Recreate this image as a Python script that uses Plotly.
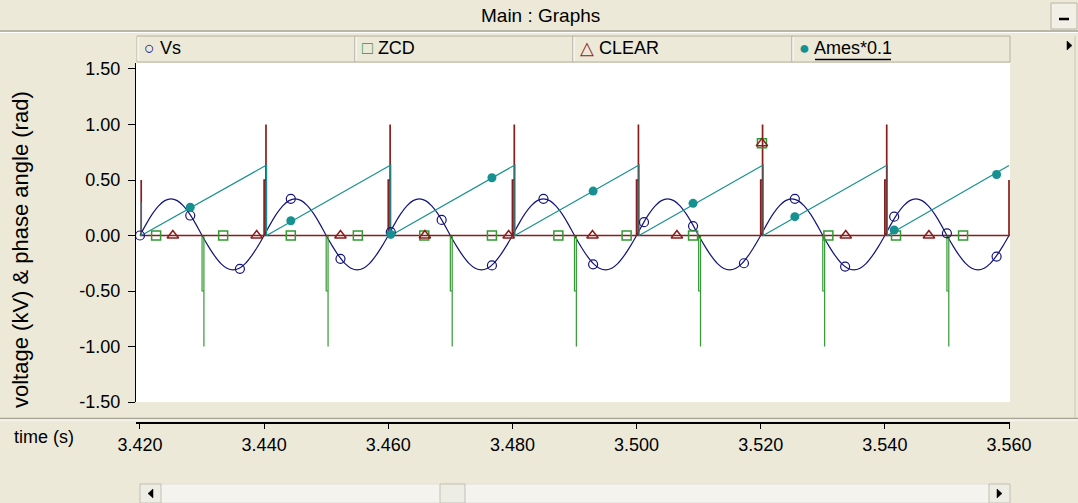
import plotly.graph_objects as go

# ---------------- data ----------------
# Vs (kV), sampled every 1 ms from 3.420 s to 3.560 s
vs_t0 = 3.420
vs_dt = 0.001
vs_values = [
    0.000, 0.102, 0.194, 0.267, 0.314, 0.330, 0.314, 0.267, 0.194, 0.102,
    0.000, -0.096, -0.182, -0.251, -0.295, -0.310, -0.295, -0.251, -0.182, -0.096,
    0.000, 0.102, 0.194, 0.267, 0.314, 0.330, 0.314, 0.267, 0.194, 0.102,
    0.000, -0.096, -0.182, -0.251, -0.295, -0.310, -0.295, -0.251, -0.182, -0.096,
    0.000, 0.102, 0.194, 0.267, 0.314, 0.330, 0.314, 0.267, 0.194, 0.102,
    0.000, -0.096, -0.182, -0.251, -0.295, -0.310, -0.295, -0.251, -0.182, -0.096,
    0.000, 0.102, 0.194, 0.267, 0.314, 0.330, 0.314, 0.267, 0.194, 0.102,
    0.000, -0.096, -0.182, -0.251, -0.295, -0.310, -0.295, -0.251, -0.182, -0.096,
    0.000, 0.102, 0.194, 0.267, 0.314, 0.330, 0.314, 0.267, 0.194, 0.102,
    0.000, -0.096, -0.182, -0.251, -0.295, -0.310, -0.295, -0.251, -0.182, -0.096,
    0.000, 0.102, 0.194, 0.267, 0.314, 0.330, 0.314, 0.267, 0.194, 0.102,
    0.000, -0.096, -0.182, -0.251, -0.295, -0.310, -0.295, -0.251, -0.182, -0.096,
    0.000, 0.102, 0.194, 0.267, 0.314, 0.330, 0.314, 0.267, 0.194, 0.102,
    0.000, -0.096, -0.182, -0.251, -0.295, -0.310, -0.295, -0.251, -0.182, -0.096,
    0.000,
]
vs_time = [round(vs_t0 + i * vs_dt, 4) for i in range(len(vs_values))]

vs_marker_t = [3.4200, 3.4281, 3.4361, 3.4443, 3.4523, 3.4604, 3.4686, 3.4767, 3.4850,
               3.4930, 3.5012, 3.5091, 3.5173, 3.5255, 3.5336, 3.5415, 3.5500, 3.5580]
vs_marker_v = [0.00, 0.18, -0.30, 0.33, -0.21, 0.03, 0.14, -0.27, 0.33,
               -0.26, 0.12, 0.085, -0.25, 0.33, -0.28, 0.17, 0.02, -0.19]

# ZCD: zero-crossing detector pulses
zcd_time = [3.4200,
            3.4300, 3.4300, 3.4303, 3.4303, 3.4303,
            3.4500, 3.4500, 3.4503, 3.4503, 3.4503,
            3.4700, 3.4700, 3.4703, 3.4703, 3.4703,
            3.4900, 3.4900, 3.4903, 3.4903, 3.4903,
            3.5100, 3.5100, 3.5103, 3.5103, 3.5103,
            3.5300, 3.5300, 3.5303, 3.5303, 3.5303,
            3.5500, 3.5500, 3.5503, 3.5503, 3.5503,
            3.5600]
zcd_values = [0.0,
              0.0, -0.5, -0.5, -1.0, 0.0,
              0.0, -0.5, -0.5, -1.0, 0.0,
              0.0, -0.5, -0.5, -1.0, 0.0,
              0.0, -0.5, -0.5, -1.0, 0.0,
              0.0, -0.5, -0.5, -1.0, 0.0,
              0.0, -0.5, -0.5, -1.0, 0.0,
              0.0, -0.5, -0.5, -1.0, 0.0,
              0.0]
zcd_marker_t = [3.4226, 3.4334, 3.4443, 3.4551, 3.4658, 3.4767, 3.4874, 3.4984,
                3.5091, 3.5202, 3.5309, 3.5418, 3.5526]
zcd_marker_v = [0.0, 0.0, 0.0, 0.0, 0.0, 0.0, 0.0, 0.0, 0.0, 0.83, 0.0, 0.0, 0.0]

# CLEAR: reset pulses
clear_time = [3.4202, 3.4202,
              3.4400, 3.4400, 3.4403, 3.4403, 3.4403,
              3.4600, 3.4600, 3.4603, 3.4603, 3.4603,
              3.4800, 3.4800, 3.4803, 3.4803, 3.4803,
              3.5000, 3.5000, 3.5003, 3.5003, 3.5003,
              3.5200, 3.5200, 3.5203, 3.5203, 3.5203,
              3.5400, 3.5400, 3.5403, 3.5403, 3.5403,
              3.5600, 3.5600]
clear_values = [0.5, 0.0,
                0.0, 0.5, 0.5, 1.0, 0.0,
                0.0, 0.5, 0.5, 1.0, 0.0,
                0.0, 0.5, 0.5, 1.0, 0.0,
                0.0, 0.5, 0.5, 1.0, 0.0,
                0.0, 0.5, 0.5, 1.0, 0.0,
                0.0, 0.5, 0.5, 1.0, 0.0,
                0.0, 0.5]
clear_marker_t = [3.4253, 3.4388, 3.4523, 3.4659, 3.4794, 3.4929, 3.5065, 3.5202,
                  3.5337, 3.5471]
clear_marker_v = [0.0, 0.0, 0.0, 0.0, 0.0, 0.0, 0.0, 0.83, 0.0, 0.0]

# Ames*0.1: phase angle sawtooth
ames_time = [3.4202, 3.4202,
             3.4404, 3.4404,
             3.4604, 3.4604,
             3.4804, 3.4804,
             3.5004, 3.5004,
             3.5204, 3.5204,
             3.5404, 3.5404,
             3.5600]
ames_values = [0.30, 0.0,
               0.635, 0.0,
               0.635, 0.0,
               0.635, 0.0,
               0.635, 0.0,
               0.635, 0.0,
               0.635, 0.0,
               0.630]
ames_marker_t = [3.4281, 3.4443, 3.4604, 3.4767, 3.4930, 3.5091, 3.5255, 3.5415, 3.5580]
ames_marker_v = [0.254, 0.133, 0.01, 0.52, 0.40, 0.29, 0.17, 0.05, 0.55]

x_ticks = [3.42, 3.44, 3.46, 3.48, 3.50, 3.52, 3.54, 3.56]
x_tick_labels = ["3.420", "3.440", "3.460", "3.480", "3.500", "3.520", "3.540", "3.560"]
y_ticks = [-1.5, -1.0, -0.5, 0.0, 0.5, 1.0, 1.5]
y_tick_labels = ["-1.50", "-1.00", "-0.50", "0.00", "0.50", "1.00", "1.50"]

series_names = ["Vs", "ZCD", "CLEAR", "Ames*0.1"]
series_colors = ["#14147a", "#339933", "#8b1c1c", "#169090"]
legend_symbols = ["○", "□", "△", "●"]

# ---------------- layout geometry ----------------
W, H = 1078, 503
ML, MR, MT, MB = 136, 68, 63, 80
PW = W - ML - MR
PH = H - MT - MB
PLOT_BOTTOM_PX = 402


def px(x):
    return (x - ML) / PW


def py(y):
    return (H - MB - y) / PH


BG = "#ECE9D8"
FONT = "Liberation Sans, Arial, sans-serif"
FS = 18

fig = go.Figure()

# lines
fig.add_trace(go.Scatter(x=vs_time, y=vs_values, mode="lines", line=dict(color=series_colors[0], width=1.2, shape="spline"),
                         showlegend=False, hoverinfo="skip"))
fig.add_trace(go.Scatter(x=zcd_time, y=zcd_values, mode="lines", line=dict(color=series_colors[1], width=1.2),
                         showlegend=False, hoverinfo="skip"))
fig.add_trace(go.Scatter(x=clear_time, y=clear_values, mode="lines", line=dict(color=series_colors[2], width=1.7),
                         showlegend=False, hoverinfo="skip"))
fig.add_trace(go.Scatter(x=ames_time, y=ames_values, mode="lines", line=dict(color=series_colors[3], width=1.2),
                         showlegend=False, hoverinfo="skip"))

# markers
fig.add_trace(go.Scatter(x=vs_marker_t, y=vs_marker_v, mode="markers", showlegend=False,
                         marker=dict(symbol="circle-open", size=9, color=series_colors[0], line=dict(width=1.2))))
fig.add_trace(go.Scatter(x=zcd_marker_t, y=zcd_marker_v, mode="markers", showlegend=False,
                         marker=dict(symbol="square-open", size=9, color=series_colors[1], line=dict(width=1.5))))
fig.add_trace(go.Scatter(x=clear_marker_t, y=clear_marker_v, mode="markers", showlegend=False,
                         marker=dict(symbol="triangle-up-open", size=10, color=series_colors[2], line=dict(width=1.5))))
fig.add_trace(go.Scatter(x=ames_marker_t, y=ames_marker_v, mode="markers", showlegend=False,
                         marker=dict(symbol="circle", size=9, color=series_colors[3])))

shapes = []
annotations = []

# title bar
annotations.append(dict(text="Main : Graphs", x=px(540), y=py(15), xref="paper", yref="paper",
                        showarrow=False, font=dict(size=19, color="black", family=FONT), xanchor="center", yanchor="middle"))
shapes.append(dict(type="line", xref="paper", yref="paper", x0=px(0), x1=px(W), y0=py(31), y1=py(31),
                   line=dict(color="#A7A596", width=1.5)))
shapes.append(dict(type="line", xref="paper", yref="paper", x0=px(0), x1=px(W), y0=py(32.5), y1=py(32.5),
                   line=dict(color="#FFFFFF", width=1)))
# minimize button
shapes.append(dict(type="rect", xref="paper", yref="paper", x0=px(1051), x1=px(1077), y0=py(3), y1=py(29),
                   line=dict(color="#B8B5A6", width=1), fillcolor="#F1EFE6"))
shapes.append(dict(type="line", xref="paper", yref="paper", x0=px(1059), x1=px(1069), y0=py(19), y1=py(19),
                   line=dict(color="black", width=2.5)))
shapes.append(dict(type="path", xref="paper", yref="paper",
                   path=f"M {px(1067)} {py(41)} L {px(1072)} {py(45.5)} L {px(1067)} {py(50)} Z",
                   fillcolor="black", line=dict(color="black", width=0.5)))

# legend bar
cells = [137, 355, 573, 792, 1010]
for i in range(4):
    shapes.append(dict(type="rect", xref="paper", yref="paper", x0=px(cells[i]), x1=px(cells[i + 1]),
                       y0=py(62), y1=py(36), line=dict(color="#B5B2A2", width=1), fillcolor=BG, layer="below"))
    shapes.append(dict(type="line", xref="paper", yref="paper", x0=px(cells[i] + 1), x1=px(cells[i] + 1),
                       y0=py(61), y1=py(37), line=dict(color="#FFFFFF", width=1)))
    sym = legend_symbols[i]
    label = series_names[i]
    annotations.append(dict(text=f'<span style="color:{series_colors[i]}">{sym}</span> {label}',
                            x=px(cells[i] + 5), y=py(48), xref="paper", yref="paper", showarrow=False,
                            xanchor="left", yanchor="middle", font=dict(size=FS, color="black", family=FONT)))
# underline for the selected channel
shapes.append(dict(type="line", xref="paper", yref="paper", x0=px(815), x1=px(891), y0=py(59.5), y1=py(59.5),
                   line=dict(color="black", width=1.5)))
# right separator column
shapes.append(dict(type="line", xref="paper", yref="paper", x0=px(1075), x1=px(1075), y0=py(36), y1=py(418),
                   line=dict(color="#C9C6B6", width=1)))

# bottom separator
shapes.append(dict(type="line", xref="paper", yref="paper", x0=px(0), x1=px(W), y0=py(418.5), y1=py(418.5),
                   line=dict(color="#A7A596", width=1.5)))
shapes.append(dict(type="line", xref="paper", yref="paper", x0=px(0), x1=px(W), y0=py(420), y1=py(420),
                   line=dict(color="#FFFFFF", width=1)))

# scrollbar
shapes.append(dict(type="rect", xref="paper", yref="paper", x0=px(140), x1=px(1010), y0=py(503), y1=py(484),
                   line=dict(color="#E2E0D4", width=1), fillcolor="#F4F3EE"))
for (a, b) in [(140, 161), (989, 1010), (440, 465)]:
    shapes.append(dict(type="rect", xref="paper", yref="paper", x0=px(a), x1=px(b), y0=py(503), y1=py(484),
                       line=dict(color="#C4C1B1", width=1), fillcolor="#EEEDE5"))
shapes.append(dict(type="path", xref="paper", yref="paper",
                   path=f"M {px(148)} {py(493.5)} L {px(153)} {py(489)} L {px(153)} {py(498)} Z",
                   fillcolor="black", line=dict(color="black", width=0.5)))
shapes.append(dict(type="path", xref="paper", yref="paper",
                   path=f"M {px(1002)} {py(493.5)} L {px(997)} {py(489)} L {px(997)} {py(498)} Z",
                   fillcolor="black", line=dict(color="black", width=0.5)))

# axis titles
annotations.append(dict(text="voltage (kV) & phase angle (rad)", x=px(21), y=py(250), xref="paper", yref="paper",
                        textangle=-90, showarrow=False, xanchor="center", yanchor="middle",
                        font=dict(size=22, color="black", family=FONT)))
annotations.append(dict(text="time (s)", x=px(12), y=py(437), xref="paper", yref="paper", showarrow=False,
                        xanchor="left", yanchor="middle", font=dict(size=FS, color="black", family=FONT)))

fig.update_layout(
    width=W, height=H,
    margin=dict(l=ML, r=MR, t=MT, b=MB, pad=0),
    paper_bgcolor=BG, plot_bgcolor="white",
    showlegend=False,
    shapes=shapes, annotations=annotations,
    xaxis=dict(range=[3.41936, 3.56016], anchor="free", position=0,
               tickvals=x_ticks, ticktext=x_tick_labels, ticks="outside", ticklen=5, tickwidth=1.3,
               tickcolor="black", showline=True, linecolor="black", linewidth=2, showgrid=False, zeroline=False,
               tickfont=dict(size=FS, color="black", family=FONT)),
    yaxis=dict(range=[-1.5, 1.554], domain=[(H - MB - PLOT_BOTTOM_PX) / PH, 1],
               tickvals=y_ticks, ticktext=y_tick_labels, ticks="outside", ticklen=7, tickwidth=1.3,
               tickcolor="black", showline=True, linecolor="black", linewidth=1.3, showgrid=False, zeroline=False,
               tickfont=dict(size=FS, color="black", family=FONT), ticklabelstandoff=4),
)

fig.write_html("out.html")
